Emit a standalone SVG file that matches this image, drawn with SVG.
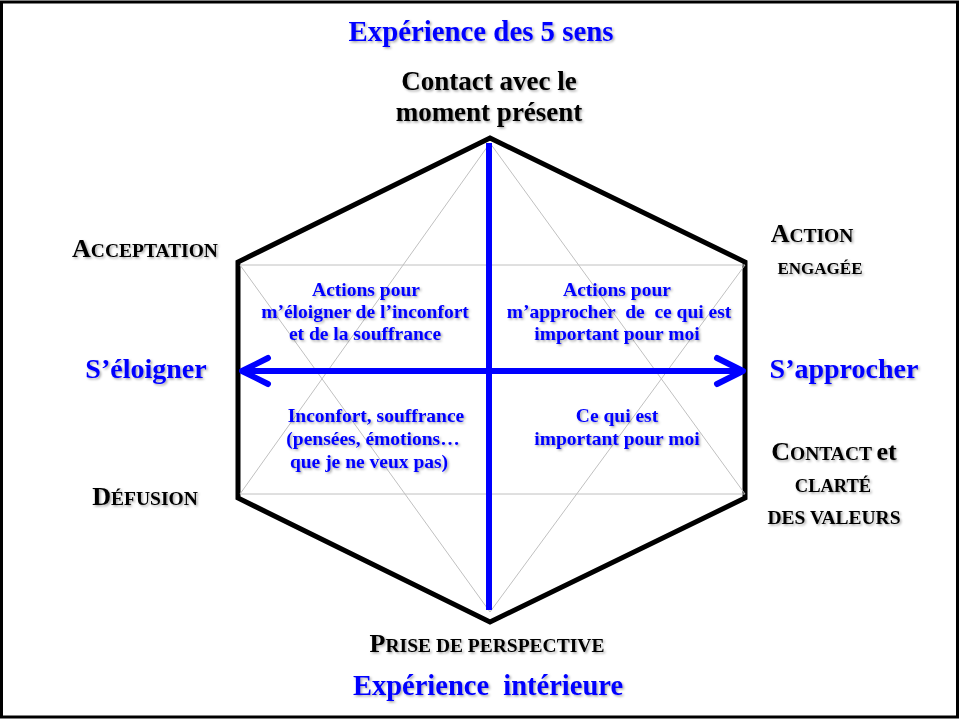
<svg xmlns="http://www.w3.org/2000/svg" width="960" height="720" viewBox="0 0 960 720">
  <defs>
    <filter id="shadow" x="-10%" y="-10%" width="120%" height="130%">
      <feDropShadow dx="1.5" dy="1.5" stdDeviation="0.8" flood-color="#000" flood-opacity="0.35"/>
    </filter>
    <filter id="soft" x="-5%" y="-5%" width="110%" height="110%">
      <feGaussianBlur stdDeviation="0.6"/>
    </filter>
  </defs>
  <style>
    text { font-family: "Liberation Serif", "DejaVu Serif", serif; font-weight: bold; text-anchor: middle; }
    .blue { fill: #0000ff; }
    .black { fill: #000; }
    .axis { fill: #0000ff; font-size: 19.5px; }
    .corner { font-size: 27px; }
    .cap { font-size: 26px; }
    .sc { font-size: 19.5px; }
    .guide { stroke: #c0c0c0; stroke-width: 1; fill: none; }
  </style>

  <!-- page frame -->
  <rect x="1.5" y="2" width="956" height="715" fill="#fff" stroke="#000" stroke-width="3"/>

  <!-- hexagon with guide lines -->
  <g id="hexagon">
    <polygon points="490,138 745,262 745,498 490,622 238,498 238,262" fill="none" stroke="#000" stroke-width="5" stroke-linejoin="miter" filter="url(#soft)"/>
    <line class="guide" x1="240" y1="265" x2="745" y2="265"/>
    <line class="guide" x1="240" y1="494" x2="745" y2="494"/>
    <polyline class="guide" points="240,494 490,143 745,494"/>
    <polyline class="guide" points="240,265 490,612 745,265"/>
  </g>

  <!-- axes -->
  <g id="connectors" stroke="#0000ff" fill="none" stroke-linecap="round" stroke-linejoin="round">
    <line x1="489" y1="143" x2="489" y2="610" stroke-width="6" stroke-linecap="butt"/>
    <line x1="243" y1="371" x2="742" y2="371" stroke-width="6"/>
    <polyline points="268,358 242,371 268,384" stroke-width="6"/>
    <polyline points="717,358 743,371 717,384" stroke-width="6"/>
  </g>

  <g filter="url(#shadow)">
    <g id="title-top">
      <text class="blue" x="481" y="41" font-size="30" textLength="265" lengthAdjust="spacingAndGlyphs">Expérience des 5 sens</text>
    </g>
    <g id="node-contact">
      <text class="black corner" x="489" y="90">Contact avec le</text>
      <text class="black corner" x="489" y="121">moment présent</text>
    </g>
    <g id="node-acceptation">
      <text class="black" x="145" y="257"><tspan class="cap">A</tspan><tspan class="sc">CCEPTATION</tspan></text>
    </g>
    <g id="node-action">
      <text class="black" x="812" y="242"><tspan class="cap">A</tspan><tspan class="sc">CTION</tspan></text>
      <text class="black" x="820" y="274" font-size="17">ENGAGÉE</text>
    </g>
    <g id="node-eloigner">
      <text class="blue" x="146" y="378" font-size="28">S’éloigner</text>
    </g>
    <g id="node-approcher">
      <text class="blue" x="844" y="378" font-size="28">S’approcher</text>
    </g>
    <g id="node-defusion">
      <text class="black" x="145" y="505"><tspan class="cap">D</tspan><tspan class="sc">ÉFUSION</tspan></text>
    </g>
    <g id="node-valeurs">
      <text class="black" x="834" y="460"><tspan class="cap">C</tspan><tspan class="sc">ONTACT </tspan><tspan class="cap">et</tspan></text>
      <text class="black" x="833" y="492" font-size="18.5">CLARTÉ</text>
      <text class="black sc" x="834" y="524">DES VALEURS</text>
    </g>
    <g id="node-perspective">
      <text class="black" x="487" y="652"><tspan class="cap">P</tspan><tspan class="sc">RISE DE PERSPECTIVE</tspan></text>
    </g>
    <g id="title-bottom">
      <text class="blue" x="488" y="695" font-size="28.5" xml:space="preserve">Expérience  intérieure</text>
    </g>

    <g id="quad-top-left">
      <text class="axis" x="366" y="296">Actions pour</text>
      <text class="axis" x="365" y="318">m’éloigner de l’inconfort</text>
      <text class="axis" x="365" y="340">et de la souffrance</text>
    </g>
    <g id="quad-top-right">
      <text class="axis" x="617" y="296">Actions pour</text>
      <text class="axis" x="619" y="318" xml:space="preserve">m’approcher  de  ce qui est</text>
      <text class="axis" x="617" y="340">important pour moi</text>
    </g>
    <g id="quad-bottom-left">
      <text class="axis" x="376" y="422">Inconfort, souffrance</text>
      <text class="axis" x="373" y="445">(pensées, émotions…</text>
      <text class="axis" x="369" y="468">que je ne veux pas)</text>
    </g>
    <g id="quad-bottom-right">
      <text class="axis" x="617" y="422">Ce qui est</text>
      <text class="axis" x="617" y="445">important pour moi</text>
    </g>
  </g>
</svg>
